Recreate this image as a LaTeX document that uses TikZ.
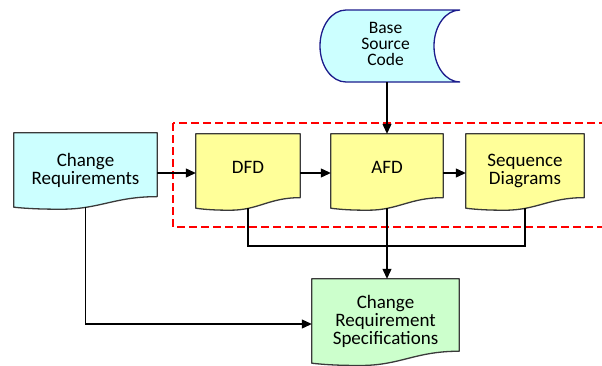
\documentclass[tikz,border=0pt]{standalone}
\usepackage{fontspec}
\setmainfont{Carlito}
\usetikzlibrary{arrows.meta,calc}

\definecolor{cyanfill}{HTML}{CCFFFF}
\definecolor{yellowfill}{HTML}{FFFF99}
\definecolor{greenfill}{HTML}{CCFFCC}
\definecolor{docline}{HTML}{3A3A3A}
\definecolor{storeline}{HTML}{1C1C8C}
\definecolor{framered}{RGB}{255,0,0}

\pgfdeclarelayer{shapes}
\pgfsetlayers{shapes,main}

% outline of a document symbol around node #1, filled with #2
\newcommand\docoutline[2]{%
  \begin{pgfonlayer}{shapes}
  \path[draw=docline, line width=1.3pt, line join=round, fill=#2]
    let \p1=(#1.north west), \p2=(#1.south east),
        \n1={\x2-\x1}, \n2={\y1-\y2} in
    (\x1,\y1) -- (\x2,\y1) -- (\x2,{\y2+0.142*\n2})
    .. controls ({\x1+0.7*\n1},{\y2+0.142*\n2}) and ({\x1+0.6*\n1},{\y2-0.027*\n2})
    .. ({\x1+0.33*\n1},{\y2-0.027*\n2})
    .. controls ({\x1+0.2*\n1},{\y2-0.027*\n2}) and ({\x1+0.1*\n1},{\y2-0.02*\n2})
    .. (\x1,\y2) -- cycle;
  \end{pgfonlayer}}

\tikzset{
  docbox/.style={minimum height=74pt, inner sep=0pt, align=center,
    font=\fontsize{19}{18}\selectfont},
  arr/.style={line width=1.1pt, -{Triangle[length=10pt,width=9pt]}},
  link/.style={line width=1.1pt},
  groupframe/.style={color=framered, line width=1.2pt, dash pattern=on 8pt off 4pt},
}

\begin{document}
\begin{tikzpicture}[x=1pt, y=-1pt]
\useasboundingbox (0,0) rectangle (602,365);
\clip (0,0) rectangle (602,365);

% dashed group frame, running off the right edge
\draw[groupframe] (173,123) rectangle (640,227);

% stored data symbol
\begin{pgfonlayer}{shapes}
\path[draw=storeline, line width=1.3pt, fill=cyanfill]
  (346,10) .. controls (331.6,10) and (320,26.1) .. (320,46)
  .. controls (320,65.9) and (331.6,82) .. (346,82)
  -- (460,82)
  .. controls (445.6,82) and (434,65.9) .. (434,46)
  .. controls (434,26.1) and (445.6,10) .. (460,10) -- cycle;
\end{pgfonlayer}
\node[align=center, font=\fontsize{17.5}{16}\selectfont, inner sep=0pt]
  (bsc) at (385.5,44) {Base\\Source\\Code};
\coordinate (bscbottom) at (390,82);

% documents
\node[docbox, minimum width=143pt] (CR) at (85.5,170) {Change\\Requirements};
\node[docbox, minimum width=104pt, text depth=8pt] (DFD) at (248,171) {DFD};
\node[docbox, minimum width=112pt, text depth=8pt] (AFD) at (387,171) {AFD};
\node[docbox, minimum width=118pt] (SEQ) at (525,171) {Sequence\\Diagrams};
\node[docbox, minimum width=147pt, minimum height=84pt] (CRS) at (385.5,321)
  {Change\\Requirement\\Specifications};

\docoutline{CR}{cyanfill}
\docoutline{DFD}{yellowfill}
\docoutline{AFD}{yellowfill}
\docoutline{SEQ}{yellowfill}
\docoutline{CRS}{greenfill}

\coordinate (bus) at (248,246);

% connectors
\draw[arr] (AFD.north |- bscbottom) -- (AFD.north);
\draw[arr] ([yshift=-2pt]CR.east |- DFD.west) -- ([yshift=-2pt]DFD.west);
\draw[arr] ([yshift=-2pt]DFD.east) -- ([yshift=-2pt]AFD.west);
\draw[arr] ([yshift=-2pt]AFD.east) -- ([yshift=-2pt]SEQ.west);
\draw[link] (DFD.south) -- (DFD.south |- bus) -| (SEQ.south);
\draw[arr] (AFD.south) -- (AFD.south |- CRS.north);
\draw[arr] (CR.south) |- ([yshift=-3pt]CRS.west);
\end{tikzpicture}
\end{document}
